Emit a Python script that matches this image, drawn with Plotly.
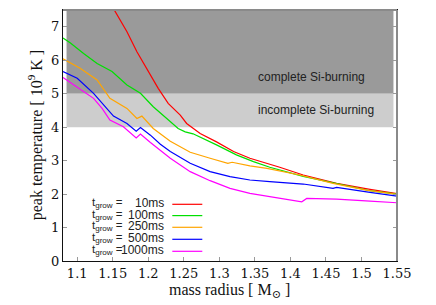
import plotly.graph_objects as go

# ---------------- data ----------------
labels = ["10ms", "100ms", "250ms", "500ms", "1000ms"]
colors = ["#ff0000", "#00e000", "#ffa500", "#0000ff", "#ff00ff"]

x_10 = [1.150, 1.170, 1.184, 1.200, 1.214, 1.228, 1.238, 1.245, 1.254, 1.273, 1.296,
        1.320, 1.343, 1.367, 1.385, 1.418, 1.465, 1.512, 1.550]
y_10 = [7.58, 6.85, 6.25, 5.66, 5.16, 4.71, 4.51, 4.36, 4.11, 3.81, 3.56,
        3.27, 3.07, 2.92, 2.80, 2.57, 2.32, 2.14, 2.01]

x_100 = [1.080, 1.090, 1.109, 1.128, 1.149, 1.170, 1.189, 1.207, 1.226, 1.242, 1.252,
         1.263, 1.296, 1.324, 1.348, 1.371, 1.418, 1.465, 1.512, 1.550]
y_100 = [6.66, 6.52, 6.20, 5.90, 5.66, 5.26, 5.01, 4.61, 4.26, 3.96, 3.86,
         3.80, 3.47, 3.17, 2.97, 2.80, 2.53, 2.32, 2.10, 2.00]

x_250 = [1.080, 1.104, 1.128, 1.146, 1.170, 1.184, 1.191, 1.207, 1.231, 1.259, 1.287,
         1.312, 1.318, 1.343, 1.367, 1.385, 1.413, 1.460, 1.507, 1.550]
y_250 = [6.04, 5.76, 5.41, 4.86, 4.56, 4.26, 4.33, 3.96, 3.58, 3.25, 3.07,
         2.92, 2.95, 2.84, 2.77, 2.70, 2.57, 2.32, 2.12, 1.99]

x_500 = [1.080, 1.100, 1.123, 1.137, 1.151, 1.170, 1.183, 1.189, 1.203, 1.217, 1.231,
         1.259, 1.287, 1.315, 1.343, 1.371, 1.418, 1.460, 1.465, 1.512, 1.550]
y_500 = [5.66, 5.46, 5.01, 4.66, 4.33, 4.11, 3.88, 3.99, 3.76, 3.49, 3.27,
         2.92, 2.67, 2.52, 2.42, 2.37, 2.30, 2.17, 2.20, 2.05, 1.94]

x_1000 = [1.080, 1.104, 1.123, 1.135, 1.146, 1.165, 1.183, 1.189, 1.203, 1.231, 1.259,
          1.287, 1.315, 1.343, 1.385, 1.416, 1.423, 1.465, 1.512, 1.550]
y_1000 = [5.48, 5.13, 4.86, 4.56, 4.21, 4.01, 3.68, 3.79, 3.54, 3.07, 2.67,
          2.40, 2.17, 2.02, 1.87, 1.77, 1.87, 1.85, 1.79, 1.74]

xs = [x_10, x_100, x_250, x_500, x_1000]
ys = [y_10, y_100, y_250, y_500, y_1000]

x_ticks = [1.1, 1.15, 1.2, 1.25, 1.3, 1.35, 1.4, 1.45, 1.5, 1.55]
x_tick_text = ["1.1", "1.15", "1.2", "1.25", "1.3", "1.35", "1.4", "1.45", "1.5", "1.55"]
y_ticks = [0, 1, 2, 3, 4, 5, 6, 7]

# shaded burning regimes: (y0, y1, label y, colour, label)
region_x = [1.085, 1.545]
regions = [(5.0, 7.5, 5.5, "#9a9a9a", "complete Si-burning"),
           (4.0, 5.0, 4.5, "#cdcdcd", "incomplete Si-burning")]

serif = "Liberation Serif, DejaVu Serif, serif"
tickserif = "DejaVu Serif, Liberation Serif, serif"
sans = "Liberation Sans, Arial, sans-serif"

fig = go.Figure()

shapes = []
annotations = []
for y0, y1, ly, col, lab in regions:
    shapes.append(dict(type="rect", xref="x", yref="y", x0=region_x[0], x1=region_x[1],
                       y0=y0, y1=y1, fillcolor=col, line=dict(width=0), layer="below"))
    annotations.append(dict(x=1.352, y=ly, xref="x", yref="y", xanchor="left",
                            text=lab, showarrow=False,
                            font=dict(family=sans, size=12, color="#222222")))

for x, y, c, lab in zip(xs, ys, colors, labels):
    fig.add_trace(go.Scatter(x=x, y=y, mode="lines", line=dict(color=c, width=1.2),
                             name=lab, showlegend=False))

# page layout (page body has an 8px margin, so figure coords = page - 8)
OFF = 8
PAGE_W, PAGE_H = 436, 305
L, R = 62.7, 396.7      # plot area in page pixels
T, B = 10.0, 261.0
W, H = R - L, B - T
FIG_W, FIG_H = PAGE_W - OFF, PAGE_H - OFF

def px(x):
    return (x - L) / W
def py(y):
    return (B - y) / H

# gnuplot-style key (text left, line sample right)
row_y = [203.3, 214.6, 226.3, 238.3, 250.3]
for ry, lab, c in zip(row_y, labels, colors):
    annotations.append(dict(x=px(90), y=py(ry), xref="paper", yref="paper",
                            xanchor="left", yanchor="middle", showarrow=False,
                            text="t<sub>grow</sub> =", font=dict(family=sans, size=11.5, color="#222222")))
    annotations.append(dict(x=px(165.5), y=py(ry), xref="paper", yref="paper",
                            xanchor="right", yanchor="middle", showarrow=False,
                            text=lab, font=dict(family=sans, size=12, color="#222222")))
    shapes.append(dict(type="line", xref="paper", yref="paper", x0=px(172), x1=px(202),
                       y0=py(ry + 1), y1=py(ry + 1), line=dict(color=c, width=1.2)))

# axis titles placed as annotations
annotations.append(dict(x=px(229), y=py(290), xref="paper", yref="paper",
                        xanchor="center", yanchor="middle", showarrow=False,
                        text="mass radius [ M<sub>⊙</sub> ]",
                        font=dict(family=serif, size=16, color="#111111")))
annotations.append(dict(x=px(35), y=py(135), xref="paper", yref="paper",
                        xanchor="center", yanchor="middle", showarrow=False, textangle=-90,
                        text="peak temperature [ 10<sup>9</sup> K ]",
                        font=dict(family=serif, size=16, color="#111111")))

# gray top / right border (gnuplot look)
shapes.append(dict(type="line", xref="paper", yref="paper", x0=0, x1=1, y0=1, y1=1,
                   line=dict(color="#8a8a8a", width=2), layer="above"))
shapes.append(dict(type="line", xref="paper", yref="paper", x0=1, x1=1, y0=0, y1=1,
                   line=dict(color="#8a8a8a", width=2), layer="above"))

axis_common = dict(showgrid=False, zeroline=False, ticks="inside", ticklen=4,
                   tickcolor="#9a9a9a", showline=True, linecolor="#111111", linewidth=1,
                   mirror="allticks", automargin=False,
                   tickfont=dict(family=tickserif, size=13, color="#111111"))

fig.update_layout(
    width=FIG_W, height=FIG_H,
    margin=dict(l=L - OFF, r=FIG_W - (R - OFF), t=T - OFF, b=FIG_H - (B - OFF), autoexpand=False),
    paper_bgcolor="white", plot_bgcolor="white",
    shapes=shapes, annotations=annotations,
    xaxis=dict(range=[1.08, 1.55], tickvals=x_ticks, ticktext=x_tick_text, **axis_common),
    yaxis=dict(range=[0, 7.5], tickvals=y_ticks, **axis_common),
)

fig.write_html("out.html")
